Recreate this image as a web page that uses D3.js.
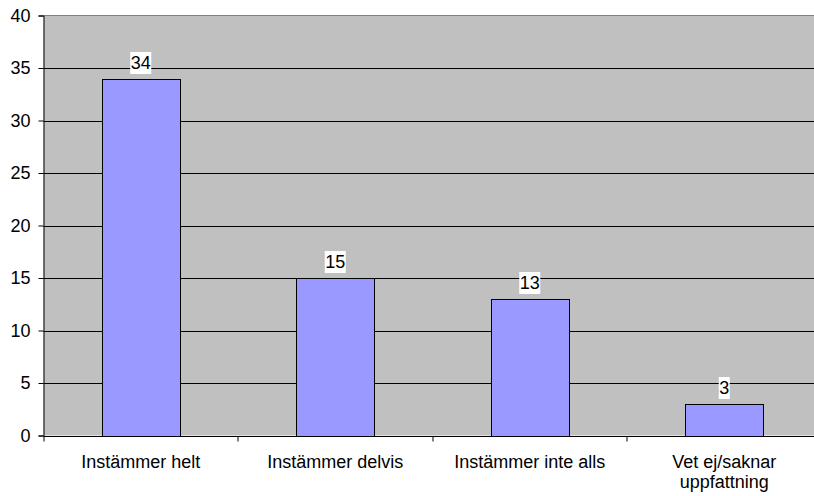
<!DOCTYPE html>
<html>
<head>
<meta charset="utf-8">
<script src="https://cdn.jsdelivr.net/npm/d3@7"></script>
<style>
  body { margin: 0; background: #fff; }
  svg { display: block; font-family: "Liberation Sans", Arial, sans-serif; }
</style>
</head>
<body>
<div class="barChart"></div>
<script>
const categories = ["Instämmer helt", "Instämmer delvis", "Instämmer inte alls", "Vet ej/saknar uppfattning"];
const values = [34, 15, 13, 3];
const yTicks = [0, 5, 10, 15, 20, 25, 30, 35, 40];

const width = 814, height = 496;
const margin = { top: 15.5, left: 43.5 };
const plotW = 778, plotH = 420;
const fontSize = 18;

const svg = d3.select(".barChart")
    .append("svg")
    .attr("width", width)
    .attr("height", height);

const x = d3.scaleBand()
    .domain(categories)
    .range([margin.left, margin.left + plotW])
    .paddingInner(0.6)
    .paddingOuter(0.3);

const y = d3.scaleLinear()
    .domain([0, 40])
    .range([margin.top + plotH, margin.top]);

// plot background
svg.append("rect")
    .attr("x", margin.left)
    .attr("y", margin.top)
    .attr("width", plotW)
    .attr("height", plotH)
    .attr("fill", "#c0c0c0");

// gridlines
svg.append("g")
    .selectAll("line")
    .data(yTicks.filter(d => d > 0 && d < 40))
    .enter()
    .append("line")
    .attr("x1", margin.left)
    .attr("x2", margin.left + plotW)
    .attr("y1", d => Math.round(y(d)) + 0.5)
    .attr("y2", d => Math.round(y(d)) + 0.5)
    .attr("stroke", "#000")
    .attr("stroke-width", 1);

// top border
svg.append("line")
    .attr("x1", margin.left)
    .attr("x2", margin.left + plotW)
    .attr("y1", margin.top)
    .attr("y2", margin.top)
    .attr("stroke", "#808080");

// bars
svg.append("g")
    .selectAll("rect")
    .data(values)
    .enter()
    .append("rect")
    .attr("x", (d, i) => Math.round(x(categories[i])) + 0.5)
    .attr("y", d => Math.round(y(d)) + 0.5)
    .attr("width", Math.round(x.bandwidth()))
    .attr("height", d => Math.round(y(0)) - Math.round(y(d)))
    .attr("fill", "#9999ff")
    .attr("stroke", "#000")
    .attr("stroke-width", 1);

// value labels with white boxes
const labels = svg.append("g")
    .selectAll("g")
    .data(values)
    .enter()
    .append("g")
    .attr("transform", (d, i) => `translate(${x(categories[i]) + x.bandwidth() / 2},${Math.round(y(d)) - 10})`);

labels.append("rect")
    .attr("x", d => -(String(d).length * 10 + 1) / 2)
    .attr("y", -17)
    .attr("width", d => String(d).length * 10 + 1)
    .attr("height", 22)
    .attr("fill", "#fff");

labels.append("text")
    .text(d => d)
    .attr("text-anchor", "middle")
    .attr("font-size", fontSize)
    .attr("fill", "#000");

// y axis
const yAxis = d3.axisLeft(y).tickValues(yTicks).tickSize(5).tickPadding(8);
const yg = svg.append("g")
    .attr("transform", `translate(${margin.left},0)`)
    .call(yAxis);
yg.select(".domain").attr("stroke", "#000");
yg.selectAll(".tick line").attr("stroke", "#000");
yg.selectAll(".tick text")
    .attr("font-size", fontSize)
    .attr("font-family", "Liberation Sans, Arial, sans-serif")
    .attr("fill", "#000");

// x axis baseline and category ticks
const xg = svg.append("g").attr("transform", `translate(0,${Math.round(y(0)) + 0.5})`);
xg.append("line")
    .attr("x1", margin.left)
    .attr("x2", margin.left + plotW)
    .attr("stroke", "#000");
xg.selectAll(".ctick")
    .data(d3.range(categories.length + 1))
    .enter()
    .append("line")
    .attr("class", "ctick")
    .attr("x1", i => Math.round(margin.left + i * plotW / categories.length))
    .attr("x2", i => Math.round(margin.left + i * plotW / categories.length))
    .attr("y1", 0)
    .attr("y2", 5)
    .attr("stroke", "#000");

// category labels (wrap the long one)
const catLines = { "Vet ej/saknar uppfattning": ["Vet ej/saknar", "uppfattning"] };
const cl = svg.append("g")
    .selectAll("text")
    .data(categories)
    .enter()
    .append("text")
    .attr("text-anchor", "middle")
    .attr("font-size", fontSize)
    .attr("fill", "#000")
    .attr("x", d => x(d) + x.bandwidth() / 2)
    .attr("y", 468);

cl.each(function (d) {
    const lines = catLines[d] || [d];
    const t = d3.select(this);
    lines.forEach((ln, k) => {
        t.append("tspan")
            .attr("x", x(d) + x.bandwidth() / 2)
            .attr("dy", k === 0 ? 0 : 20)
            .text(ln);
    });
});
</script>
</body>
</html>
